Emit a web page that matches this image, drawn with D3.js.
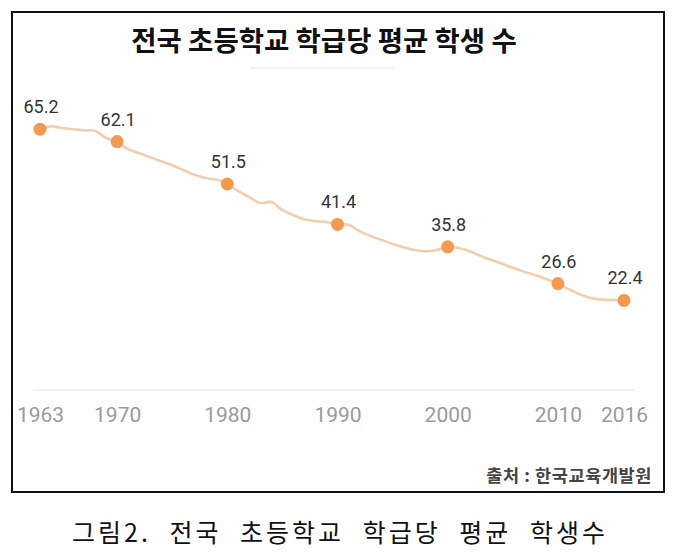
<!DOCTYPE html>
<html><head><meta charset="utf-8">
<script src="https://cdn.jsdelivr.net/npm/d3@7"></script>
<style>
html,body{margin:0;padding:0;background:#fff;}
svg{display:block;}
</style></head>
<body>
<svg id="chart" width="683" height="552"></svg>
<script>
const years = [1963,1964,1965,1966,1967,1968,1969,1970,1971,1972,1973,1974,1975,1976,1977,1978,1979,1980,1981,1982,1983,1984,1985,1986,1987,1988,1989,1990,1991,1992,1993,1994,1995,1996,1997,1998,1999,2000,2001,2002,2003,2004,2005,2006,2007,2008,2009,2010,2011,2012,2013,2014,2015,2016];
const students = [65.2,65.9,65.5,65.2,64.9,64.8,63.0,62.1,60.2,59.2,58.2,57.2,56.2,55.0,53.8,53.0,52.6,51.5,49.7,48.2,46.7,47.0,45.0,43.7,42.7,42.2,42.0,41.4,41.3,39.7,38.5,37.5,36.5,35.7,35.0,34.7,35.0,35.8,35.5,34.7,33.5,32.5,31.5,30.5,29.5,28.7,27.7,26.6,25.2,23.9,23.0,22.6,22.5,22.4];
const labelYears = [1963,1970,1980,1990,2000,2010,2016];
const labelValues = [65.2,62.1,51.5,41.4,35.8,26.6,22.4];
const titleText = "전국 초등학교 학급당 평균 학생 수";
const sourceText = "출처 : 한국교육개발원";
const captionText = "그림2. 전국 초등학교 학급당 평균 학생수";

const svg = d3.select("#chart");
const x = d3.scaleLinear().domain([1963, 2016]).range([40, 624]);
const y = d3.scaleLinear().domain([0, 70]).range([390, 110]);

// frame
svg.append("rect").attr("x", 12).attr("y", 12).attr("width", 652).attr("height", 480)
  .attr("fill", "#fff").attr("stroke", "#111").attr("stroke-width", 2);

// title
svg.append("text").attr("x", 324).attr("y", 51).attr("text-anchor", "middle")
  .attr("font-family", "'Noto Sans CJK KR', sans-serif").attr("font-weight", 700)
  .attr("font-size", 27.5).attr("fill", "#111").text(titleText);
svg.append("line").attr("x1", 250).attr("x2", 395).attr("y1", 68).attr("y2", 68)
  .attr("stroke", "#e6e6e6").attr("stroke-width", 1.2);

// baseline
svg.append("line").attr("x1", 33).attr("x2", 634).attr("y1", y(0)).attr("y2", y(0))
  .attr("stroke", "#eeeeee").attr("stroke-width", 1.5);

// axis
const axis = d3.axisBottom(x).tickValues(labelYears).tickFormat(d3.format("d")).tickSize(0).tickPadding(17);
const gAx = svg.append("g").attr("transform", `translate(0,${y(0)})`).call(axis);
gAx.select(".domain").remove();
gAx.selectAll("text").attr("font-family", "Roboto, sans-serif").attr("font-size", 21).attr("fill", "#9a9a9a");

// line
const pts = years.map((yr, i) => ({yr, v: students[i]}));
const line = d3.line().x(d => x(d.yr)).y(d => y(d.v)).curve(d3.curveCatmullRom.alpha(0.5));
svg.append("path").datum(pts).attr("d", line).attr("fill", "none")
  .attr("stroke", "#f2cdae").attr("stroke-width", 2.6).attr("stroke-linejoin", "round");

// dots and labels
const lab = labelYears.map((yr, i) => ({yr, v: labelValues[i]}));
svg.append("g").selectAll("circle").data(lab).join("circle")
  .attr("cx", d => x(d.yr)).attr("cy", d => y(d.v)).attr("r", 6.5).attr("fill", "#f39a4e");
svg.append("g").selectAll("text").data(lab).join("text")
  .attr("x", d => x(d.yr) + 1).attr("y", d => y(d.v) - 16).attr("text-anchor", "middle")
  .attr("font-family", "Roboto, sans-serif").attr("font-size", 18).attr("fill", "#333")
  .text(d => d3.format(".1f")(d.v));

// source
svg.append("text").attr("x", 652).attr("y", 482).attr("text-anchor", "end")
  .attr("font-family", "'Noto Sans CJK KR', sans-serif").attr("font-weight", 700)
  .attr("font-size", 17.5).attr("letter-spacing", 0.6).attr("fill", "#444").text(sourceText);

// caption
svg.append("text").attr("x", 340).attr("y", 542).attr("text-anchor", "middle")
  .attr("font-family", "'Noto Sans CJK KR', sans-serif").attr("font-weight", 400)
  .attr("font-size", 25).attr("letter-spacing", 3).attr("word-spacing", 10).attr("fill", "#111").text(captionText);
</script>
</body></html>
